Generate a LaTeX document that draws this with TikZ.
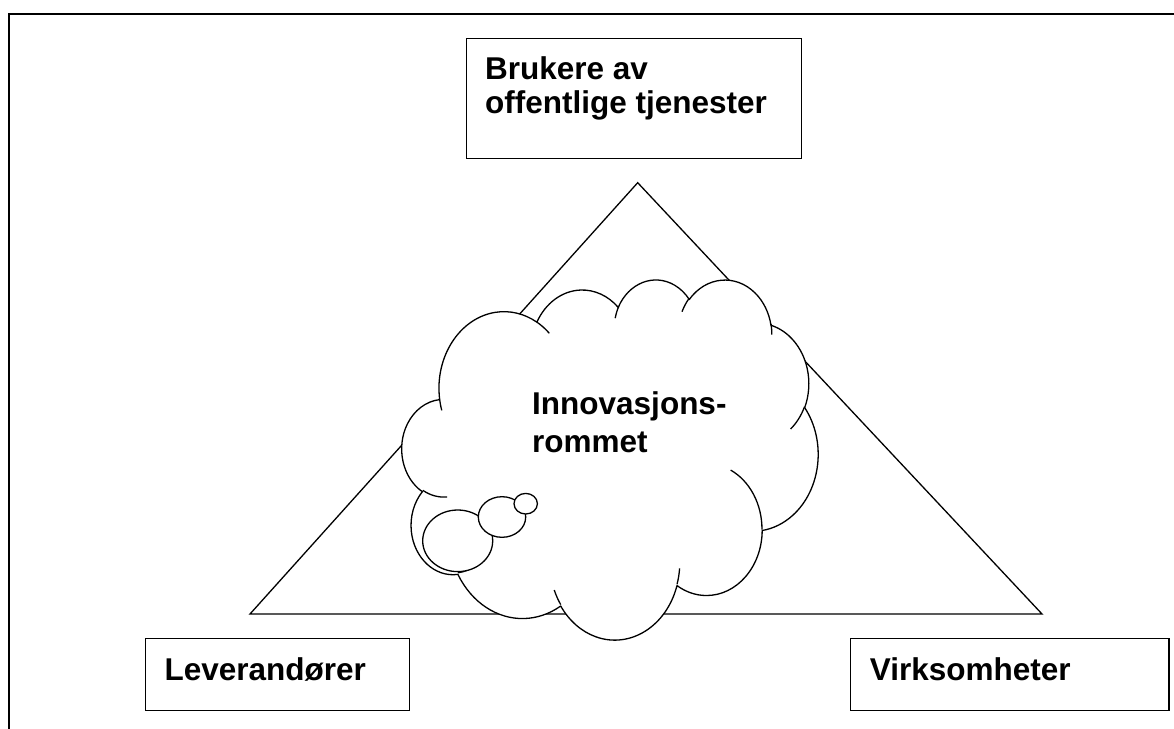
\documentclass[tikz,border=0pt]{standalone}
\usepackage{fontspec}
\setmainfont{Liberation Sans}

% One bump of the cloud outline: an elliptical arc given by its radii and by
% its start and sweep angles measured as directions from the centre; the
% angles are turned into the parametric angles that the TikZ arc expects.
\newcommand\cloudarc[4]{%
  arc[x radius=#1, y radius=#2,
      start angle={atan2((#1)*sin(#3),(#2)*cos(#3))},
      delta angle={mod(atan2((#1)*sin((#3)+(#4)),(#2)*cos((#3)+(#4)))-atan2((#1)*sin(#3),(#2)*cos(#3))+720,360)}]}

\begin{document}
\begin{tikzpicture}[x=1pt, y=-1pt,
  boxnode/.style={draw, line width=1.4pt, fill=white, inner sep=0pt, anchor=north west},
  caption/.style={font=\fontsize{31.5}{36}\selectfont\bfseries, inner sep=0pt, anchor=base west},
  outline/.style={line width=1.3pt, line join=round}]

\useasboundingbox (0,0) rectangle (1174,728);

% outer frame (only its top and left sides fall on the page)
\coordinate (framecorner) at (9,14.3);
\draw[line width=2pt] (1180,14.3) -- (framecorner) -- (9,735);

% the three actors
\node[boxnode, minimum width=335pt, minimum height=120pt] (usersbox) at (466,38) {};
\node[boxnode, minimum width=264.5pt, minimum height=72pt] (supplierbox) at (144.5,638) {};
\node[boxnode, minimum width=318.5pt, minimum height=72pt] (agencybox) at (849.6,638) {};

\node[caption] (users1) at (485,79.3) {Brukere av};
\node[caption] (users2) at (485,113.3) {offentlige tjenester};
\node[caption] (supplier) at (164.4,680.7) {Leverandører};
\node[caption] (agency) at (869.7,680.7) {Virksomheter};

% triangle joining the actors
\coordinate (apex) at (637.7,182.7);
\coordinate (baseleft) at (250,614);
\coordinate (baseright) at (1042,614);
\draw[outline, line join=miter] (apex) -- (baseleft) -- (baseright) -- cycle;

% cloud in the middle of the triangle
\begin{scope}[shift={(402,278.8)}, x=0.96296pt, y=-0.83333pt]
  \draw[outline, fill=white] (39.00,143.70)
    \cloudarc{67.53}{91.90}{-190.48748}{123.78053}
    \cloudarc{53.33}{72.67}{-144.10238}{89.94523}
    \cloudarc{43.65}{59.45}{-145.80792}{99.72302}
    \cloudarc{48.57}{65.95}{-130.98607}{117.24173}
    \cloudarc{53.33}{72.73}{-78.70888}{109.02692}
    \cloudarc{67.75}{92.20}{-46.26725}{130.26900}
    \cloudarc{57.85}{78.67}{0.62502}{114.03333}
    \cloudarc{67.52}{92.15}{22.45160}{115.17255}
    \cloudarc{77.20}{105.43}{66.24263}{75.71102}
    \cloudarc{43.60}{59.18}{-274.94208}{146.73557}
    \cloudarc{43.45}{59.45}{-246.82850}{152.51885}
    -- cycle;
  % short inner strokes between the bumps
  \draw[outline] (46.93,261.77) \cloudarc{43.45}{59.45}{86.74200}{26.42950};
  \draw[outline] (69.28,348.99) \cloudarc{43.60}{59.18}{73.61047}{11.44747};
  \draw[outline] (164.78,390.90) \cloudarc{67.52}{92.15}{137.62415}{14.08110};
  \draw[outline] (288.27,347.51) \cloudarc{67.52}{92.15}{6.45327}{15.99835};
  \draw[outline] (341.29,229.54) \cloudarc{57.85}{78.67}{-70.29235}{70.91737};
  \draw[outline] (417.98,153.54) \cloudarc{53.33}{72.73}{30.31803}{27.75150};
  \draw[outline] (383.24,54.26) \cloudarc{48.57}{65.95}{-13.74433}{14.85890};
  \draw[outline] (290.78,39.52) \cloudarc{48.57}{65.95}{-149.18145}{18.19537};
  \draw[outline] (221.41,47.20) \cloudarc{43.65}{59.45}{-163.49427}{17.68635};
  \draw[outline] (140.00,51.92) \cloudarc{67.53}{91.90}{-66.70695}{12.31935};
  \draw[outline] (41.27,157.89) \cloudarc{67.53}{91.90}{157.65435}{11.85817};
\end{scope}

% thought bubbles
\draw[outline, fill=white] (457.7,540.8) circle[x radius=35, y radius=30.8];
\draw[outline, fill=white] (502,517) circle[x radius=23.7, y radius=20.3];
\draw[outline, fill=white] (525.7,503.7) circle[x radius=11.7, y radius=10.3];

\node[caption] (space1) at (532,414) {Innovasjons-};
\node[caption] (space2) at (532,452.3) {rommet};
\end{tikzpicture}
\end{document}
